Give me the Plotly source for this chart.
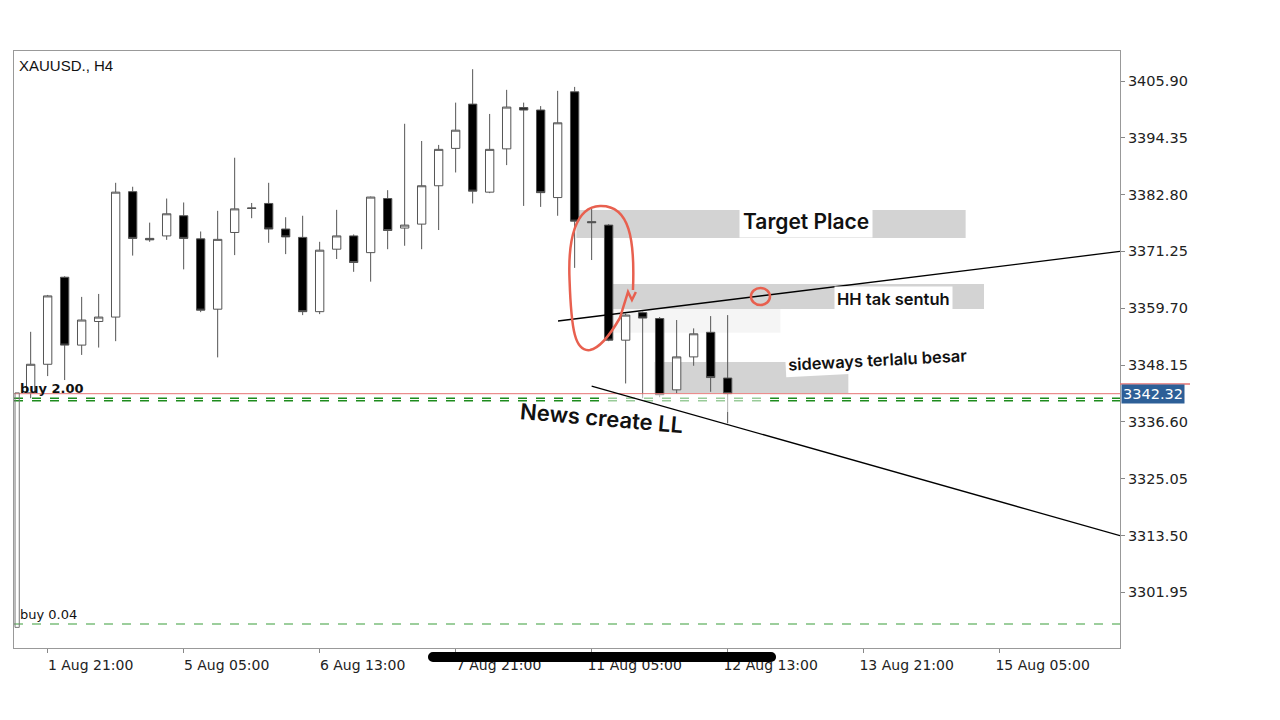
import plotly.graph_objects as go

# ---------------- data ----------------
bar_index = list(range(42))
opens = [3342.5, 3348.3, 3366.0, 3352.2, 3357.0, 3357.9, 3383.4, 3373.9, 3374.4, 3378.5,
         3373.8, 3359.5, 3375.1, 3380.1, 3381.0, 3375.8, 3374.1, 3359.0, 3371.7, 3374.4,
         3371.0, 3382.0, 3376.0, 3376.8, 3384.6, 3392.2, 3401.2, 3383.3, 3392.1, 3400.5,
         3400.0, 3382.2, 3403.7, 3377.3, 3376.6, 3353.2, 3358.8, 3357.6, 3343.1, 3349.8,
         3354.8, 3345.5]
highs = [3354.9, 3362.4, 3366.2, 3362.0, 3362.6, 3385.2, 3384.4, 3377.1, 3382.0, 3381.2,
         3375.3, 3379.5, 3390.3, 3381.1, 3385.2, 3378.2, 3378.5, 3373.2, 3379.7, 3374.7,
         3382.4, 3383.7, 3397.2, 3393.7, 3392.9, 3401.5, 3408.3, 3399.2, 3404.1, 3401.5,
         3400.8, 3403.9, 3404.7, 3380.0, 3376.8, 3358.6, 3359.0, 3357.9, 3357.3, 3355.6,
         3358.1, 3358.3]
lows = [3341.4, 3345.9, 3345.1, 3350.2, 3351.7, 3353.0, 3370.4, 3373.2, 3373.6, 3367.6,
        3358.9, 3349.7, 3370.5, 3378.0, 3373.0, 3370.7, 3358.3, 3358.5, 3369.7, 3367.1,
        3365.1, 3371.7, 3372.4, 3371.7, 3375.6, 3387.3, 3381.0, 3383.1, 3388.8, 3380.5,
        3380.3, 3378.5, 3367.9, 3369.5, 3353.0, 3344.4, 3341.4, 3341.6, 3342.4, 3348.0,
        3342.7, 3336.3]
closes = [3348.3, 3362.2, 3352.2, 3357.3, 3357.9, 3383.3, 3373.9, 3373.6, 3378.9, 3373.9,
          3359.3, 3373.7, 3379.9, 3380.0, 3375.8, 3374.2, 3359.0, 3371.5, 3374.4, 3369.0,
          3382.3, 3375.5, 3376.6, 3384.6, 3392.0, 3395.9, 3383.5, 3392.0, 3400.6, 3400.0,
          3383.2, 3397.4, 3377.4, 3377.1, 3353.2, 3358.3, 3357.7, 3342.1, 3349.8, 3354.5,
          3345.6, 3342.32]

x_tick_pos = [1, 9, 17, 25, 33, 41, 49, 57]
x_tick_text = ["1 Aug 21:00", "5 Aug 05:00", "6 Aug 13:00", "7 Aug 21:00",
               "11 Aug 05:00", "12 Aug 13:00", "13 Aug 21:00", "15 Aug 05:00"]
y_tick_vals = [3301.95, 3313.50, 3325.05, 3336.60, 3348.15, 3359.70, 3371.25, 3382.80, 3394.35, 3405.90]

bid_price = 3342.32
buy_levels = [3341.4, 3340.9]
buy_small_level = 3295.5

trend_up = [(31.02, 3357.10), (64.08, 3371.25)]
trend_down = [(33.0, 3343.88), (64.08, 3313.45)]

zone_target = [(32.1, 55.0), (3373.98, 3379.67)]
zone_hh = [(34.25, 56.08), (3359.54, 3364.62)]
zone_side = [(36.7, 48.1), (3342.46, 3348.76)]

# ---------------- figure ----------------
fig = go.Figure()
fig.add_trace(go.Candlestick(
    x=bar_index, open=opens, high=highs, low=lows, close=closes,
    increasing=dict(fillcolor="white", line=dict(color="#555555", width=1)),
    decreasing=dict(fillcolor="black", line=dict(color="#555555", width=1)),
    whiskerwidth=0, showlegend=False, hoverinfo="skip"))

shapes = []
for (xr, yr) in [zone_target, zone_hh, zone_side]:
    shapes.append(dict(type="rect", xref="x", yref="y", x0=xr[0], x1=xr[1], y0=yr[0], y1=yr[1],
                       fillcolor="#d3d3d3", line=dict(width=0), layer="below"))
shapes.append(dict(type="rect", xref="x", yref="y", x0=34.25, x1=44.1, y0=3354.7, y1=3359.54,
                   fillcolor="rgba(200,200,200,0.18)", line=dict(width=0), layer="below"))
shapes.append(dict(type="line", xref="paper", yref="y", x0=0, x1=1, y0=bid_price, y1=bid_price,
                   line=dict(color="#e57373", width=1), layer="above"))
shapes.append(dict(type="line", xref="paper", yref="y", x0=1.0, x1=1.0633, y0=3344.29, y1=3344.29,
                   line=dict(color="#e57373", width=1.5), layer="above"))
for lv in buy_levels:
    shapes.append(dict(type="line", xref="paper", yref="y", x0=0, x1=1, y0=lv, y1=lv,
                       line=dict(color="#1e8c1e", width=1.5, dash="dash"), layer="above"))
shapes.append(dict(type="line", xref="paper", yref="y", x0=0, x1=1, y0=buy_small_level, y1=buy_small_level,
                   line=dict(color="#7cbf7c", width=1.5, dash="dash"), layer="above"))
shapes.append(dict(type="rect", xref="x", yref="y", x0=-0.92, x1=-0.67, y0=3294.8, y1=3342.5,
                   line=dict(color="#777777", width=1), fillcolor="rgba(0,0,0,0)", layer="above"))
shapes.append(dict(type="rect", xref="x", yref="y", x0=33.5, x1=43.5, y0=3338.6, y1=3342.2,
                   fillcolor="rgba(255,255,255,0.55)", line=dict(width=0), layer="above"))
for tl in [trend_up, trend_down]:
    shapes.append(dict(type="line", xref="x", yref="y", x0=tl[0][0], y0=tl[0][1], x1=tl[1][0], y1=tl[1][1],
                       line=dict(color="black", width=1.3), layer="above"))
loop_path = ("M 35.43,3363.40 C 35.55,3373.57 35.25,3380.69 33.49,3380.48 "
             "C 32.02,3380.28 31.60,3373.57 31.70,3365.44 "
             "C 31.80,3355.27 32.02,3350.79 32.90,3351.20 "
             "C 33.49,3351.61 34.08,3354.25 34.66,3357.71 "
             "L 35.14,3363.00 L 35.37,3361.37 L 35.60,3363.00")
shapes.append(dict(type="path", xref="x", yref="y", path=loop_path,
                   line=dict(color="#e8604f", width=2.5), layer="above"))
shapes.append(dict(type="circle", xref="x", yref="y", x0=42.37, x1=43.49, y0=3360.35, y1=3363.81,
                   line=dict(color="#e8604f", width=2.5), layer="above"))
bar_y = -0.01508
shapes.append(dict(type="line", xref="paper", yref="paper", x0=0.3788, x1=0.6845, y0=bar_y, y1=bar_y,
                   line=dict(color="black", width=10), layer="above"))
for ax in [0.3788, 0.6845]:
    shapes.append(dict(type="circle", xref="paper", yref="paper", xsizemode="pixel", ysizemode="pixel",
                       xanchor=ax, yanchor=bar_y, x0=-5, x1=5, y0=-5, y1=5,
                       fillcolor="black", line=dict(width=0), layer="above"))

annotations = [
    dict(text="XAUUSD., H4", xref="paper", yref="paper", x=0, y=1, xanchor="left", yanchor="top",
         xshift=3, yshift=-4, showarrow=False, font=dict(family="Liberation Sans", size=15, color="#111")),
    dict(text="<b>buy 2.00</b>", xref="paper", yref="y", x=0, y=buy_levels[0], xanchor="left", yanchor="bottom",
         xshift=4, yshift=0, showarrow=False, font=dict(family="DejaVu Sans", size=13, color="#111")),
    dict(text="buy 0.04", xref="paper", yref="y", x=0, y=buy_small_level, xanchor="left", yanchor="bottom",
         xshift=4, yshift=0, showarrow=False, font=dict(family="DejaVu Sans", size=13, color="#111")),
    dict(text="3342.32", xref="paper", yref="y", x=1, y=bid_price, xanchor="left", yanchor="middle",
         xshift=1, showarrow=False, bgcolor="#2d5f97", borderpad=1,
         font=dict(family="DejaVu Sans", size=14.5, color="white")),
    dict(text="Target Place", xref="x", yref="y", x=45.61, y=3377.43, showarrow=False,
         bgcolor="white", borderpad=3, font=dict(family="Inter", size=21, color="#111", weight=600)),
    dict(text="HH tak sentuh", xref="x", yref="y", x=50.73, y=3361.57, showarrow=False,
         bgcolor="white", borderpad=2, font=dict(family="Inter", size=16.5, color="#111", weight=600)),
    dict(text="sideways terlalu besar", xref="x", yref="y", x=49.84, y=3349.17, showarrow=False,
         textangle=-3, bgcolor="white", borderpad=2, font=dict(family="Inter", size=16.5, color="#111", weight=600)),
    dict(text="News create LL", xref="x", yref="y", x=33.55, y=3337.37, showarrow=False,
         textangle=5, font=dict(family="Inter", size=22, color="#111", weight=600)),
]

# The page body has an 8px default margin, so margins are reduced by 8px on left/top.
fig.update_layout(
    width=1280, height=720,
    margin=dict(l=6, r=168, t=43, b=80),
    paper_bgcolor="white", plot_bgcolor="white",
    shapes=shapes, annotations=annotations, showlegend=False,
    xaxis=dict(range=[-0.98, 64.08], tickmode="array", tickvals=x_tick_pos, ticktext=x_tick_text,
               ticks="outside", ticklen=4, tickcolor="#888", showline=True, mirror=True,
               linecolor="#999", linewidth=1, showgrid=False, zeroline=False,
               rangeslider=dict(visible=False), ticklabelshift=43,
               tickfont=dict(family="DejaVu Sans", size=14, color="#222")),
    yaxis=dict(side="right", range=[3290.61, 3412.0], tickmode="array", tickvals=y_tick_vals,
               ticktext=[f"{v:.2f}" for v in y_tick_vals],
               ticks="outside", ticklen=4, tickcolor="#888", showline=True, mirror=True,
               linecolor="#999", linewidth=1, showgrid=False, zeroline=False,
               ticklabelstandoff=0,
               tickfont=dict(family="DejaVu Sans", size=14.5, color="#222")),
)

fig.write_html("out.html")
